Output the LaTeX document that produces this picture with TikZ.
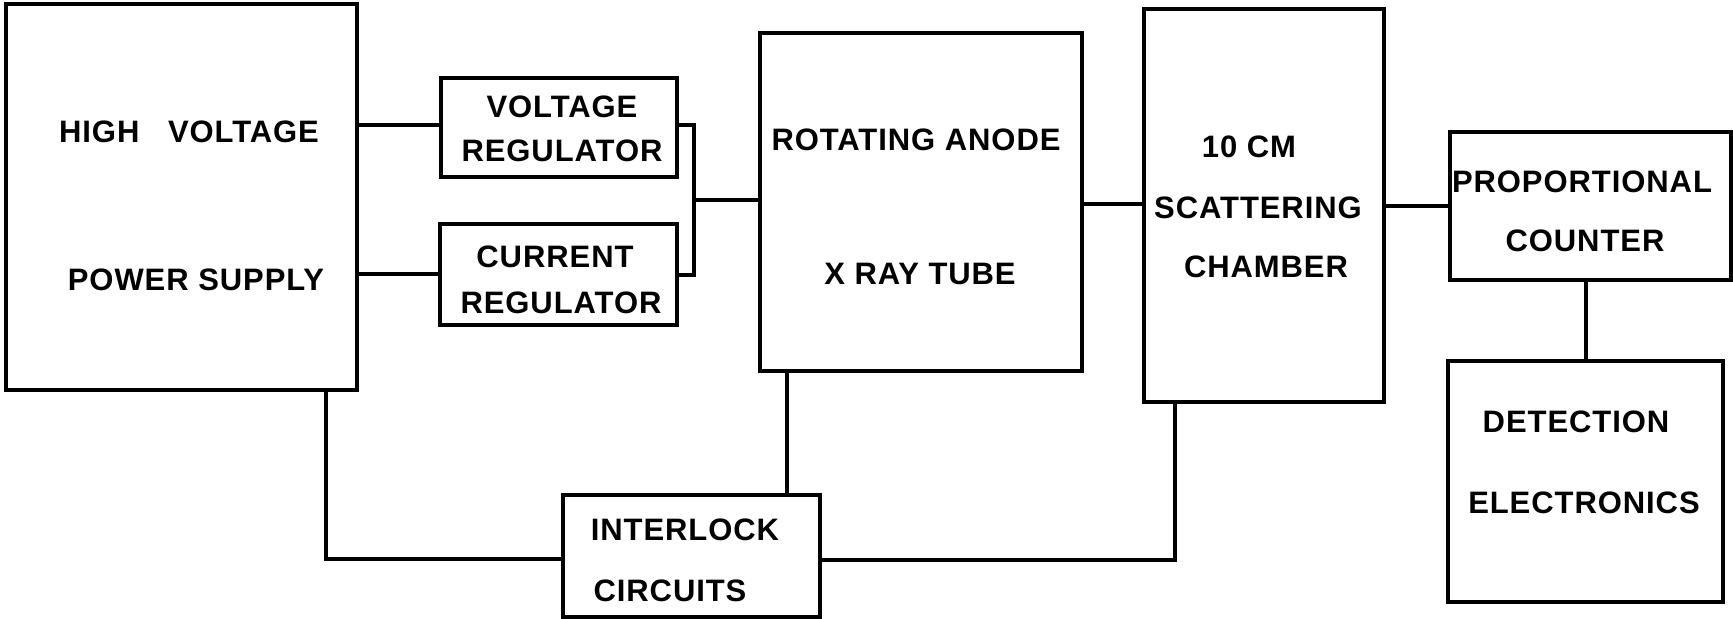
\documentclass[tikz,border=0pt]{standalone}
\usepackage{fontspec}
\setmainfont{Liberation Sans}[LetterSpace=3]
\usetikzlibrary{fit}
\tikzset{
  blk/.style={draw=black, line width=2.2pt, inner sep=0pt, rectangle},
  wire/.style={draw=black, line width=2pt},
  lbl/.style={font=\fontsize{15.5}{18}\selectfont\bfseries, inner sep=0pt, anchor=center}
}
\begin{document}
\begin{tikzpicture}[x=0.5pt,y=-0.5pt]
\useasboundingbox[fill=white] (0,0) rectangle (1733,619);
% boxes
\node[blk, fit={(6,4) (357,390)}] (hv) {};
\node[blk, fit={(441,78) (677,177)}] (vr) {};
\node[blk, fit={(440,224) (677,325)}] (cr) {};
\node[blk, fit={(760,33) (1082,371)}] (ra) {};
\node[blk, fit={(1144,9) (1384,402)}] (sc) {};
\node[blk, fit={(1450,132) (1731,280)}] (pc) {};
\node[blk, fit={(1448,361) (1723,602)}] (de) {};
\node[blk, fit={(563,495) (820,617)}] (il) {};
% labels
\node[lbl] (t1) at (189,132) {HIGH\ \ \ VOLTAGE};
\node[lbl] (t2) at (196,280) {POWER SUPPLY};
\node[lbl] (t3) at (562,107) {VOLTAGE};
\node[lbl] (t4) at (562,151) {REGULATOR};
\node[lbl] (t5) at (555,257) {CURRENT};
\node[lbl] (t6) at (561,303) {REGULATOR};
\node[lbl] (t7) at (916,140) {ROTATING ANODE};
\node[lbl] (t8) at (920,274) {X RAY TUBE};
\node[lbl] (t9) at (1249,147) {10 CM};
\node[lbl] (t10) at (1258,208) {SCATTERING};
\node[lbl] (t11) at (1266,267) {CHAMBER};
\node[lbl] (t12) at (1582,182) {PROPORTIONAL};
\node[lbl] (t13) at (1585,241) {COUNTER};
\node[lbl] (t14) at (1576,422) {DETECTION};
\node[lbl] (t15) at (1584,503) {ELECTRONICS};
\node[lbl] (t16) at (685,530) {INTERLOCK};
\node[lbl] (t17) at (670,591) {CIRCUITS};
% junction coordinates
\coordinate (bt) at (694,125);
\coordinate (bb) at (694,275);
\coordinate (bm) at (694,200);
% connectors
\draw[wire] (hv.east |- 0,125) -- (vr.west |- 0,125);
\draw[wire] (hv.east |- 0,274) -- (cr.west |- 0,274);
\draw[wire] (vr.east |- bt) -- (bt) -- (bb) -- (cr.east |- bb);
\draw[wire] (bm) -- (ra.west |- bm);
\draw[wire] (ra.east |- 0,204) -- (sc.west |- 0,204);
\draw[wire] (sc.east |- 0,206) -- (pc.west |- 0,206);
\draw[wire] (pc.south -| 1586,0) -- (de.north -| 1586,0);
\draw[wire] (hv.south -| 326,0) |- (il.west |- 0,559);
\draw[wire] (ra.south -| 787,0) -- (il.north -| 787,0);
\draw[wire] (il.east |- 0,560) -| (sc.south -| 1175,0);
\end{tikzpicture}
\end{document}
